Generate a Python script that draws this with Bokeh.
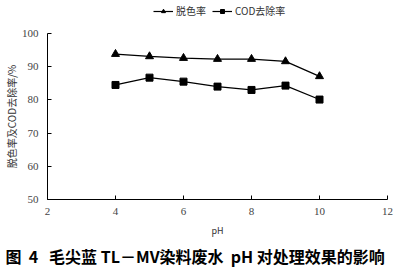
from bokeh.plotting import figure
from bokeh.models import Range1d, Legend, LegendItem, FixedTicker, Title
from bokeh.layouts import column
from bokeh.embed import file_html
from bokeh.resources import INLINE

ph = [4, 5, 6, 7, 8, 9, 10]
decolor = [93.8, 93.1, 92.6, 92.3, 92.3, 91.6, 87.1]
cod = [84.5, 86.7, 85.5, 84.0, 83.0, 84.3, 80.1]
x_ticks = [2, 4, 6, 8, 10, 12]
y_ticks = [50, 60, 70, 80, 90, 100]
series_names = ["脱色率", "COD去除率"]
y_title = "脱色率及COD去除率/%"
x_title = "pH"
NB = "\u00a0"
caption = ("图" + NB * 2 + "4" + NB * 3 + "毛尖蓝" + NB + "TL－MV染料废水" + NB * 2
           + "pH" + NB + "对处理效果的影响")

CJK = "Noto Sans CJK SC"
SERIF = "Liberation Serif"

# legend strip (its renderers use the same data, but lie outside this strip's ranges)
lf = figure(width=397, height=22, output_backend="svg", toolbar_location=None,
            x_range=Range1d(100, 101), y_range=Range1d(0, 1),
            min_border=0, x_axis_type=None, y_axis_type=None)
lf.outline_line_color = None
lf.grid.grid_line_color = None
ll1 = lf.line(ph, decolor, line_color="black", line_width=1.2)
ls1 = lf.scatter(ph, decolor, marker="triangle", size=8, fill_color="black", line_color="black")
ll2 = lf.line(ph, cod, line_color="black", line_width=1.2)
ls2 = lf.scatter(ph, cod, marker="square", size=7, fill_color="black", line_color="black")
legend = Legend(items=[LegendItem(label=series_names[0], renderers=[ll1, ls1]),
                       LegendItem(label=series_names[1], renderers=[ll2, ls2])],
                orientation="horizontal", location=(106, 4),
                background_fill_alpha=0, border_line_color=None,
                label_text_font=CJK, label_text_font_size="10px", label_text_color="#333333",
                glyph_width=20, glyph_height=10, spacing=6, padding=0, margin=0,
                label_standoff=3, label_height=12)
lf.add_layout(legend, "center")

p = figure(width=397, height=247, output_backend="svg", toolbar_location=None,
           x_range=Range1d(2, 12), y_range=Range1d(50, 100),
           min_border_left=47, min_border_right=10, min_border_top=11, min_border_bottom=68)
p.outline_line_color = None
p.grid.grid_line_color = None
p.background_fill_color = "white"
p.border_fill_color = "white"

for ax in (p.xaxis[0], p.yaxis[0]):
    ax.axis_line_color = "black"
    ax.axis_line_width = 1
    ax.major_tick_in = 4
    ax.major_tick_out = 0
    ax.minor_tick_line_color = None
    ax.major_tick_line_color = "black"
    ax.major_label_text_font = SERIF
    ax.major_label_text_font_size = "11px"
    ax.major_label_text_color = "#444444"
    ax.axis_label_text_font = CJK
    ax.axis_label_text_font_style = "normal"
    ax.axis_label_text_color = "#333333"

p.xaxis.ticker = FixedTicker(ticks=x_ticks)
p.yaxis.ticker = FixedTicker(ticks=y_ticks)
p.xaxis.major_label_standoff = 8
p.yaxis.major_label_standoff = 9
p.xaxis.axis_label = x_title
p.xaxis.axis_label_text_font_size = "9px"
p.xaxis.axis_label_standoff = 6
p.yaxis.axis_label = y_title
p.yaxis.axis_label_text_font_size = "10px"
p.yaxis.axis_label_standoff = 0

p.line(ph, decolor, line_color="black", line_width=1.2)
p.scatter(ph, decolor, marker="triangle", size=8, fill_color="black", line_color="black")
p.line(ph, cod, line_color="black", line_width=1.2)
p.scatter(ph, cod, marker="square", size=7, fill_color="black", line_color="black")

cap = Title(text=caption, align="left", offset=-42, text_font=CJK, text_font_size="16px",
            text_font_style="bold", text_color="black", standoff=4)
p.add_layout(cap, "below")

layout = column(lf, p, spacing=0)
open("out.html", "w").write(file_html(layout, INLINE))
